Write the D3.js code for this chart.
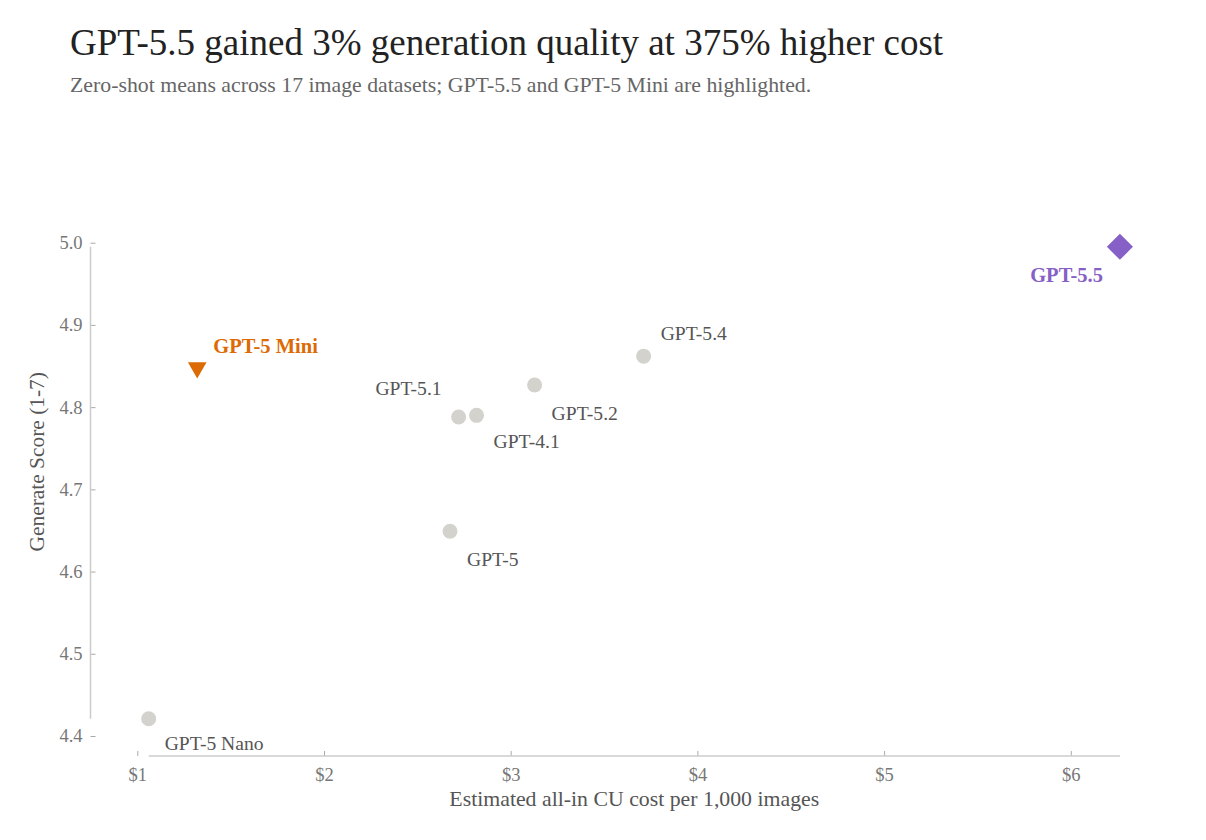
<!DOCTYPE html>
<html>
<head>
<meta charset="utf-8">
<script src="https://cdn.jsdelivr.net/npm/d3@7"></script>
<style>
  body { margin: 0; background: #fff; }
  svg text { font-family: "Liberation Serif", "DejaVu Serif", serif; }
</style>
</head>
<body>
<svg id="svg" width="1206" height="840"></svg>
<script>
// models
const models = ["GPT-5 Nano", "GPT-5 Mini", "GPT-5.1", "GPT-4.1", "GPT-5.2", "GPT-5.4", "GPT-5", "GPT-5.5"];
const costs  = [1.061, 1.321, 2.721, 2.817, 3.128, 3.712, 2.675, 6.263];
const scores = [4.421, 4.848, 4.788, 4.790, 4.827, 4.862, 4.649, 4.995];
const highlight = ["GPT-5 Mini", "GPT-5.5"];

const xTicks = [1, 2, 3, 4, 5, 6];
const yTicks = [4.4, 4.5, 4.6, 4.7, 4.8, 4.9, 5.0];

// label placement (offset from the point, in px)
const labelPos = {
    "GPT-5 Nano": { dx: 16, dy: 31, anchor: "start" },
    "GPT-5 Mini": { dx: 16, dy: -15, anchor: "start" },
    "GPT-5.1":    { dx: -17, dy: -22, anchor: "end" },
    "GPT-4.1":    { dx: 17, dy: 33, anchor: "start" },
    "GPT-5.2":    { dx: 17, dy: 35, anchor: "start" },
    "GPT-5.4":    { dx: 17, dy: -16, anchor: "start" },
    "GPT-5":      { dx: 17, dy: 35, anchor: "start" },
    "GPT-5.5":    { dx: -17, dy: 35, anchor: "end" }
};

const colors = { "GPT-5 Mini": "#dc6a05", "GPT-5.5": "#8660c6" };
const grey = "#d3d2cd";

const data = models.map((m, i) => ({ name: m, cost: costs[i], score: scores[i] }));

const svg = d3.select("#svg");

const x = d3.scaleLinear().domain([1, 6]).range([137.3, 1070.8]);
const y = d3.scaleLinear().domain([4.4, 5.0]).range([736, 242.7]);

const xAxisY = 756;
const yAxisX = 90.5;

// title + subtitle
svg.append("text")
    .attr("x", 70).attr("y", 55)
    .style("font-size", "37px")
    .style("fill", "#222")
    .text("GPT-5.5 gained 3% generation quality at 375% higher cost");

svg.append("text")
    .attr("x", 70).attr("y", 92)
    .style("font-size", "21.8px")
    .style("fill", "#666")
    .text("Zero-shot means across 17 image datasets; GPT-5.5 and GPT-5 Mini are highlighted.");

// axes: ticks point inward, spines trimmed to the data range
const gx = svg.append("g")
    .attr("transform", `translate(0,${xAxisY})`)
    .call(d3.axisBottom(x).tickValues(xTicks).tickSize(-5).tickPadding(12)
        .tickFormat(d => "$" + d));
const gy = svg.append("g")
    .attr("transform", `translate(${yAxisX},0)`)
    .call(d3.axisLeft(y).tickValues(yTicks).tickSize(-5).tickPadding(8)
        .tickFormat(d3.format(".1f")));

[gx, gy].forEach(g => {
    g.select(".domain").remove();
    g.selectAll(".tick line").style("stroke", "#aaa");
    g.selectAll(".tick text")
        .style("font-family", "'Liberation Serif', serif")
        .style("font-size", "18.5px")
        .style("fill", "#777");
});

const [cMin, cMax] = d3.extent(data, d => d.cost);
const [sMin, sMax] = d3.extent(data, d => d.score);

svg.append("line")
    .attr("x1", x(cMin)).attr("x2", x(cMax))
    .attr("y1", xAxisY).attr("y2", xAxisY)
    .style("stroke", "#ccc").style("stroke-width", 1.5);
svg.append("line")
    .attr("x1", yAxisX).attr("x2", yAxisX)
    .attr("y1", y(sMin)).attr("y2", y(sMax))
    .style("stroke", "#ccc").style("stroke-width", 1.5);

// axis titles
svg.append("text")
    .attr("x", (x(cMin) + x(cMax)) / 2).attr("y", 806)
    .attr("text-anchor", "middle")
    .style("font-size", "21.8px")
    .style("fill", "#555")
    .text("Estimated all-in CU cost per 1,000 images");

svg.append("text")
    .attr("transform", `translate(44,${(y(sMin) + y(sMax)) / 2 - 21}) rotate(-90)`)
    .attr("text-anchor", "middle")
    .style("font-size", "21.4px")
    .style("fill", "#555")
    .text("Generate Score (1-7)");

// points
const others = data.filter(d => !highlight.includes(d.name));
svg.append("g").selectAll("circle")
    .data(others)
    .join("circle")
    .attr("cx", d => x(d.cost))
    .attr("cy", d => y(d.score))
    .attr("r", 7.5)
    .style("fill", grey);

const mini = data.find(d => d.name === "GPT-5 Mini");
svg.append("path")
    .attr("d", d3.symbol(d3.symbolTriangle, 150)())
    .attr("transform", `translate(${x(mini.cost)},${y(mini.score)}) rotate(180)`)
    .style("fill", colors["GPT-5 Mini"]);

const best = data.find(d => d.name === "GPT-5.5");
svg.append("path")
    .attr("d", d3.symbol(d3.symbolSquare, 340)())
    .attr("transform", `translate(${x(best.cost)},${y(best.score)}) rotate(45)`)
    .style("fill", colors["GPT-5.5"]);

// labels
svg.append("g").selectAll("text")
    .data(data)
    .join("text")
    .attr("x", d => x(d.cost) + labelPos[d.name].dx)
    .attr("y", d => y(d.score) + labelPos[d.name].dy)
    .attr("text-anchor", d => labelPos[d.name].anchor)
    .style("font-size", d => highlight.includes(d.name) ? "20.5px" : "19.6px")
    .style("font-weight", d => highlight.includes(d.name) ? "bold" : "normal")
    .style("fill", d => colors[d.name] || "#555")
    .text(d => d.name);
</script>
</body>
</html>
